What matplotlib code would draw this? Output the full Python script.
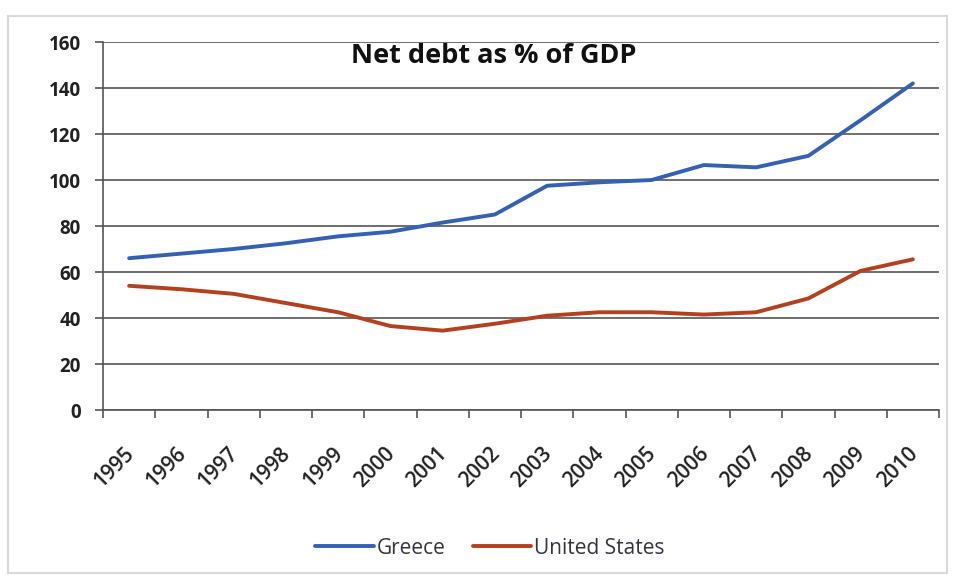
import matplotlib
matplotlib.use("Agg")
import matplotlib.pyplot as plt
import matplotlib.transforms as mtransforms
from matplotlib.patches import Rectangle
import numpy as np

years = [str(y) for y in range(1995, 2011)]
greece = [66, 68, 70, 72.5, 75.5, 77.5, 81.5, 85, 97.5, 99, 100, 106.5, 105.5, 110.5, 126, 142]
united_states = [54, 52.5, 50.5, 46.5, 42.5, 36.5, 34.5, 37.5, 41, 42.5, 42.5, 41.5, 42.5, 48.5, 60.5, 65.5]

plt.rcParams['font.family'] = ['Open Sans', 'DejaVu Sans']

fig = plt.figure(figsize=(9.55, 5.81), dpi=100)
ax = fig.add_axes([103/955, 1 - 410/581, (939 - 103)/955, (410 - 42)/581])

# light frame around the whole chart
fig.patches.append(Rectangle((8/955, 8/581), 1 - 16/955, 1 - 24/581, transform=fig.transFigure,
                             fill=False, edgecolor='#d8d8d8', linewidth=1.5))

x = np.arange(len(years))
ax.plot(x, greece, color='#3461b3', linewidth=2.8, label='Greece', solid_capstyle='round')
ax.plot(x, united_states, color='#b3401f', linewidth=2.8, label='United States', solid_capstyle='round')

ax.set_ylim(0, 160)
ax.set_yticks(range(0, 161, 20))
ax.set_xlim(-0.5, len(years) - 0.5)
ax.grid(axis='y', color='#555555', linewidth=1.2)
ax.set_axisbelow(True)

for s in ['top', 'right']:
    ax.spines[s].set_visible(False)
ax.spines['left'].set_color('#555555')
ax.spines['bottom'].set_color('#555555')
ax.spines['left'].set_linewidth(1.2)
ax.spines['bottom'].set_linewidth(1.2)

# category labels in the middle, tick marks on the boundaries
ax.set_xticks(x)
ax.set_xticklabels(years, rotation=45, ha='right', fontsize=15, fontweight='semibold', color='#222222')
ax.set_xticks(np.arange(-0.5, len(years)), minor=True)
ax.tick_params(axis='x', which='major', length=0, pad=24)
ax.tick_params(axis='x', which='minor', length=6, color='#555555', width=1.2)
ax.tick_params(axis='y', length=6, color='#555555', width=1.2, pad=10)
for lab in ax.get_yticklabels():
    lab.set_fontsize(13.5)
    lab.set_fontweight('bold')
    lab.set_color('#222222')

offset = mtransforms.ScaledTranslation(9/100, 0, fig.dpi_scale_trans)
for lab in ax.get_xticklabels():
    lab.set_transform(lab.get_transform() + offset)

fig.text(494/955, 1 - 56/581, 'Net debt as % of GDP', ha='center', va='center',
         fontsize=19.5, fontweight='bold', color='#111111')

fig.legend(loc='center', bbox_to_anchor=(490/955, 1 - 548/581), ncol=2, frameon=False,
           fontsize=15, handlelength=2.8, columnspacing=1.3, handletextpad=0.15,
           labelcolor='#333344')

fig.savefig('out.png', dpi=100)
